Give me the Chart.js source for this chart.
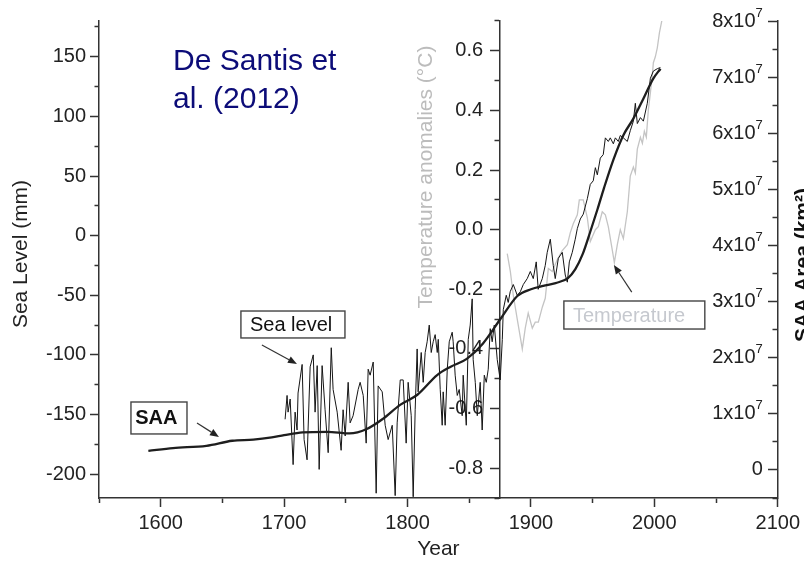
<!DOCTYPE html>
<html>
<head>
<meta charset="utf-8">
<script src="https://cdn.jsdelivr.net/npm/chart.js@4.4.1/dist/chart.umd.min.js"></script>
<style>
  html, body { margin: 0; padding: 0; background: #fff; }
  #wrap { width: 804px; height: 562px; position: relative; }
</style>
</head>
<body>
<div id="wrap"><canvas id="c"></canvas></div>
<script>
// Global mean sea level (mm)
const seaYears = [1700.8,1702.4,1703.2,1704.9,1707.3,1708.9,1710.5,1711.3,1714.6,1716.2,
  1718.6,1721.1,1723.6,1725.1,1726.8,1728.4,1730.8,1733.2,1735.7,1738.2,
  1739.7,1743.0,1746.2,1747.8,1749.5,1751.9,1753.5,1755.9,1760.0,1761.6,
  1764.1,1766.5,1768.1,1769.7,1772.2,1774.6,1776.2,1779.5,1781.9,1784.3,
  1787.6,1790.0,1791.6,1794.1,1796.5,1798.9,1800.5,1803.0,1804.6,1806.2,
  1807.8,1808.6,1811.1,1812.7,1814.3,1815.9,1817.6,1819.2,1820.8,1822.4,
  1824.1,1824.9,1826.5,1828.1,1828.9,1830.5,1832.2,1833.8,1836.2,1837.0,
  1838.6,1840.3,1841.9,1844.3,1845.1,1847.6,1849.2,1850.8,1852.4,1853.2,
  1854.9,1856.5,1858.9,1860.5,1862.2,1863.8,1865.4,1867.0,1868.6,1870.3,
  1872.7,1875.1,1876.8,1877.6,1880.0,1881.6,1883.2,1885.7,1888.9,1891.4,
  1893.8,1897.0,1899.5,1901.9,1904.3,1905.9,1909.2,1911.6,1913.2,1915.7,
  1918.1,1919.7,1922.2,1925.4,1927.8,1929.5,1931.1,1933.5,1935.9,1937.6,
  1940.0,1942.4,1945.7,1948.1,1950.5,1952.2,1953.8,1956.2,1958.6,1960.3,
  1962.7,1964.3,1966.8,1968.4,1970.8,1972.4,1974.9,1978.1,1980.5,1983.0,
  1984.6,1986.2,1988.7,1991.1,1994.3,1996.8,1999.2,2002.4,2004.9];
const seaLevel = [-154,-134,-148,-137,-192,-148,-163,-132,-108,-171,
  -188,-110,-100,-148,-109,-196,-109,-146,-182,-94,
  -129,-148,-180,-146,-168,-123,-157,-151,-129,-123,
  -134,-174,-112,-117,-106,-216,-126,-131,-159,-171,
  -159,-218,-157,-121,-121,-174,-123,-151,-219,-146,
  -95,-131,-98,-123,-98,-89,-75,-98,-89,-83,
  -98,-87,-129,-159,-131,-159,-112,-89,-81,-89,
  -117,-134,-129,-151,-117,-159,-87,-75,-53,-104,
  -123,-151,-123,-163,-117,-123,-112,-78,-89,-75,
  -104,-121,-87,-62,-50,-56,-47,-41,-50,-47,
  -41,-36,-30,-36,-22,-45,-36,-25,-14,-3,
  -25,-36,-19,-14,-33,-39,-22,-14,-3,6,
  14,18,31,43,46,57,51,65,68,82,
  79,82,77,82,79,84,82,79,88,96,
  111,94,99,96,111,132,138,140,141];

// Global temperature anomalies (°C)
const tempYears = [1880.8,1883.3,1885.7,1888.9,1893.0,1895.4,1897.8,1901.1,1903.5,1906.0,
  1909.2,1911.6,1914.1,1917.3,1921.4,1925.4,1929.5,1931.9,1934.3,1937.6,
  1939.2,1942.4,1945.7,1948.1,1952.2,1954.6,1957.8,1960.3,1962.7,1966.0,
  1967.6,1970.0,1972.4,1974.9,1978.1,1980.5,1983.0,1984.6,1986.2,1988.7,
  1990.3,1991.9,1993.5,1995.1,1996.8,1998.4,1999.2,2000.8,2002.4,2004.1,2006.5];
const tempAnomaly = [-0.08,-0.14,-0.22,-0.30,-0.40,-0.33,-0.28,-0.33,-0.31,-0.31,
  -0.26,-0.23,-0.13,-0.14,-0.10,-0.07,-0.05,-0.01,0.02,0.05,
  0.10,0.10,0.04,-0.04,0.00,0.01,0.06,0.05,0.01,-0.07,
  -0.11,-0.05,0.00,-0.03,0.06,0.18,0.21,0.19,0.27,0.31,
  0.29,0.33,0.31,0.40,0.46,0.52,0.56,0.58,0.61,0.66,0.71];

// South Atlantic Anomaly surface (km²)
const saaYears = [1590,1610,1637,1658,1675,1690,1700,1715,1735,1753,
  1767,1780,1794,1808,1824,1835,1848,1861,1875,1889,
  1900,1910,1920,1930,1936,1942,1948,1954,1959,1967,
  1975,1983,1991,1999,2005];
const saaArea = [3.4e6,3.9e6,4.3e6,5.2e6,5.4e6,5.8e6,6.2e6,6.7e6,6.8e6,6.5e6,
  7.3e6,9.1e6,11.6e6,13.4e6,16.9e6,18.4e6,19.8e6,22.5e6,26.8e6,31.0e6,
  32.2e6,32.8e6,33.3e6,34.2e6,35.8e6,38.5e6,42.4e6,46.5e6,50.1e6,55.4e6,
  59.7e6,62.6e6,66.1e6,69.7e6,71.5e6];

// Labelled (major) tick values of each axis
const yearTicks = [1600, 1700, 1800, 1900, 2000, 2100];
const seaTicks = [-200, -150, -100, -50, 0, 50, 100, 150];
const tempTicks = [-0.8, -0.6, -0.4, -0.2, 0.0, 0.2, 0.4, 0.6];
const saaTicks = [0, 1e7, 2e7, 3e7, 4e7, 5e7, 6e7, 7e7, 8e7];

const FONT = '"Liberation Sans", Arial, Helvetica, sans-serif';
Chart.defaults.font.family = FONT;
const AXIS = '#333333';
const TEXT = '#222222';

// Majors plus a minor tick halfway between (and beyond) them, inside [min, max]
function withMinors(majors, min, max) {
  const step = majors[1] - majors[0];
  const out = majors.map(v => ({ value: v, major: true }));
  for (let i = -1; i < majors.length; i++) {
    const m = majors[0] + (i + 0.5) * step;
    if (m >= min - 1e-9 && m <= max + 1e-9) out.push({ value: m, major: false });
  }
  return out.sort((a, b) => a.value - b.value);
}
// Minor ticks are half length; on the left axis the tick stroke starts at its outer end
const dashFromAxis = ctx => (ctx.tick && !ctx.tick.major) ? [4.5, 40] : [];
const dashToAxis = ctx => (ctx.tick && !ctx.tick.major) ? [0, 4.5, 4.5, 40] : [];
const pts = (xs, ys) => xs.map((x, i) => ({ x, y: ys[i] }));

function axisGrid(dash) {
  return {
    drawOnChartArea: false, drawTicks: true, tickLength: 9,
    tickColor: AXIS, tickWidth: 1.5, tickBorderDash: dash
  };
}

// Free text, boxed labels and arrows, anchored in year / sea-level units
const notes = {
  id: 'notes',
  beforeDatasetsDraw(chart) {
    const { ctx, scales } = chart;
    const xT = scales.x.getPixelForValue(1875) - 17;
    ctx.save();
    ctx.font = '20px ' + FONT;
    ctx.fillStyle = TEXT;
    ctx.textAlign = 'right';
    ctx.textBaseline = 'middle';
    tempTicks.forEach(v => ctx.fillText(v.toFixed(1), xT, scales.yT.getPixelForValue(v)));
    ctx.restore();
  },
  afterDraw(chart) {
    const { ctx, scales, chartArea } = chart;
    const X = v => scales.x.getPixelForValue(v);
    const Y = v => scales.y.getPixelForValue(v);
    ctx.save();

    // SAA axis labels, n x 10^7
    const xS = X(2100) - 15;
    ctx.fillStyle = TEXT;
    ctx.textAlign = 'right';
    ctx.textBaseline = 'middle';
    saaTicks.forEach(v => {
      const y = scales.yS.getPixelForValue(v);
      ctx.font = '20px ' + FONT;
      if (v === 0) { ctx.fillText('0', xS, y); return; }
      const exp = Math.floor(Math.log10(v) + 1e-9);
      const mant = Math.round(v / Math.pow(10, exp));
      ctx.font = '13px ' + FONT;
      const supW = ctx.measureText(String(exp)).width;
      ctx.fillText(String(exp), xS, y - 8);
      ctx.font = '20px ' + FONT;
      ctx.fillText(mant + 'x10', xS - supW, y);
    });

    // rotated axis titles
    ctx.textAlign = 'center';
    const vTitle = (text, x, y, font, color) => {
      ctx.save();
      ctx.translate(x, y);
      ctx.rotate(-Math.PI / 2);
      ctx.font = font;
      ctx.fillStyle = color;
      ctx.fillText(text, 0, 0);
      ctx.restore();
    };
    vTitle('Sea Level (mm)', 21, chartArea.top + 233, '21px ' + FONT, TEXT);
    vTitle('Temperature anomalies (°C)', X(1875) - 74, chartArea.top + 156, '21px ' + FONT, '#bcbcbc');
    vTitle('SAA Area (km²)', chartArea.right + 25, chartArea.top + 244, 'bold 21px ' + FONT, '#111');

    // citation
    ctx.textAlign = 'left';
    ctx.textBaseline = 'alphabetic';
    ctx.font = '30px ' + FONT;
    ctx.fillStyle = '#0c0c78';
    ctx.fillText('De Santis et', chartArea.left + 74, chartArea.top + 49);
    ctx.fillText('al. (2012)', chartArea.left + 74, chartArea.top + 87);

    // boxed labels
    const box = (x0, x1, y0, y1, tx, text, font, color) => {
      const L = X(x0), R = X(x1), T = Y(y0), B = Y(y1);
      ctx.fillStyle = '#fff';
      ctx.fillRect(L, T, R - L, B - T);
      ctx.strokeStyle = '#444';
      ctx.lineWidth = 1.4;
      ctx.strokeRect(L, T, R - L, B - T);
      ctx.font = font;
      ctx.fillStyle = color;
      ctx.textBaseline = 'middle';
      ctx.fillText(text, X(tx), (T + B) / 2 + 1);
    };
    box(1665.0, 1749.3, -63.2, -85.8, 1672.3, 'Sea level', '20px ' + FONT, '#111');
    box(1575.9, 1621.3, -139.5, -166.3, 1579.4, 'SAA', 'bold 20px ' + FONT, '#111');
    box(1926.7, 2040.9, -54.8, -78.3, 1934.0, 'Temperature', '20px ' + FONT, '#c6c9cf');

    // arrows
    const arrow = (x0, y0, x1, y1) => {
      const ax = X(x0), ay = Y(y0), bx = X(x1), by = Y(y1);
      const a = Math.atan2(by - ay, bx - ax);
      const hl = 9, hw = 3.6;
      ctx.strokeStyle = '#333';
      ctx.fillStyle = '#222';
      ctx.lineWidth = 1.2;
      ctx.beginPath();
      ctx.moveTo(ax, ay);
      ctx.lineTo(bx - hl * Math.cos(a), by - hl * Math.sin(a));
      ctx.stroke();
      ctx.beginPath();
      ctx.moveTo(bx, by);
      ctx.lineTo(bx - hl * Math.cos(a) + hw * Math.sin(a), by - hl * Math.sin(a) - hw * Math.cos(a));
      ctx.lineTo(bx - hl * Math.cos(a) - hw * Math.sin(a), by - hl * Math.sin(a) + hw * Math.cos(a));
      ctx.closePath();
      ctx.fill();
    };
    arrow(1682.0, -91.7, 1710.4, -107.6);
    arrow(1629.4, -157.1, 1647.2, -168.8);
    arrow(1981.7, -47.3, 1967.2, -24.6);

    ctx.restore();
  }
};

new Chart(document.getElementById('c'), {
  type: 'line',
  data: {
    datasets: [
      {
        label: 'SAA', data: pts(saaYears, saaArea), yAxisID: 'yS',
        borderColor: '#1e1e1e', borderWidth: 2.3, pointRadius: 0,
        cubicInterpolationMode: 'monotone', order: 0
      },
      {
        label: 'Sea level', data: pts(seaYears, seaLevel), yAxisID: 'y',
        borderColor: '#151515', borderWidth: 1, pointRadius: 0, tension: 0, order: 1
      },
      {
        label: 'Temperature', data: pts(tempYears, tempAnomaly), yAxisID: 'yT',
        borderColor: '#c4c4c4', borderWidth: 1.3, pointRadius: 0, tension: 0, order: 2
      }
    ]
  },
  options: {
    responsive: true,
    maintainAspectRatio: false,
    animation: false,
    layout: { padding: { top: 21, right: 26, left: 0, bottom: 0 } },
    plugins: { legend: { display: false }, tooltip: { enabled: false } },
    scales: {
      x: {
        type: 'linear', position: 'bottom', min: 1550, max: 2100,
        afterBuildTicks: s => { s.ticks = withMinors(yearTicks, 1550, 2100); },
        ticks: {
          autoSkip: false, maxRotation: 0, padding: 4, color: TEXT, font: { size: 20 },
          callback: (v, i, t) => t[i].major ? String(v) : ''
        },
        grid: axisGrid(dashFromAxis),
        border: { color: AXIS, width: 1.5 },
        title: { display: true, text: 'Year', color: TEXT, font: { size: 21 }, padding: { top: 0, bottom: 0 } },
        afterFit: s => { s.height = 64; }
      },
      y: {
        type: 'linear', position: 'left', min: -220, max: 180,
        afterBuildTicks: s => { s.ticks = withMinors(seaTicks, -220, 180); },
        ticks: {
          autoSkip: false, padding: 4, color: TEXT, font: { size: 20 },
          callback: (v, i, t) => t[i].major ? String(v) : ''
        },
        grid: axisGrid(dashToAxis),
        border: { color: AXIS, width: 1.5 },
        afterFit: s => { s.width = 99; }
      },
      yT: {
        type: 'linear', position: { x: 1875 }, min: -0.9, max: 0.7,
        afterBuildTicks: s => { s.ticks = withMinors(tempTicks, -0.9, 0.7); },
        ticks: { display: false, autoSkip: false },
        grid: axisGrid(dashFromAxis),
        border: { color: AXIS, width: 1.5 }
      },
      yS: {
        type: 'linear', position: { x: 2100 }, min: -5e6, max: 8e7,
        afterBuildTicks: s => { s.ticks = withMinors(saaTicks, -5e6, 8e7); },
        ticks: { display: false, autoSkip: false },
        grid: axisGrid(dashFromAxis),
        border: { color: AXIS, width: 1.5 }
      }
    }
  },
  plugins: [notes]
});
</script>
</body>
</html>
